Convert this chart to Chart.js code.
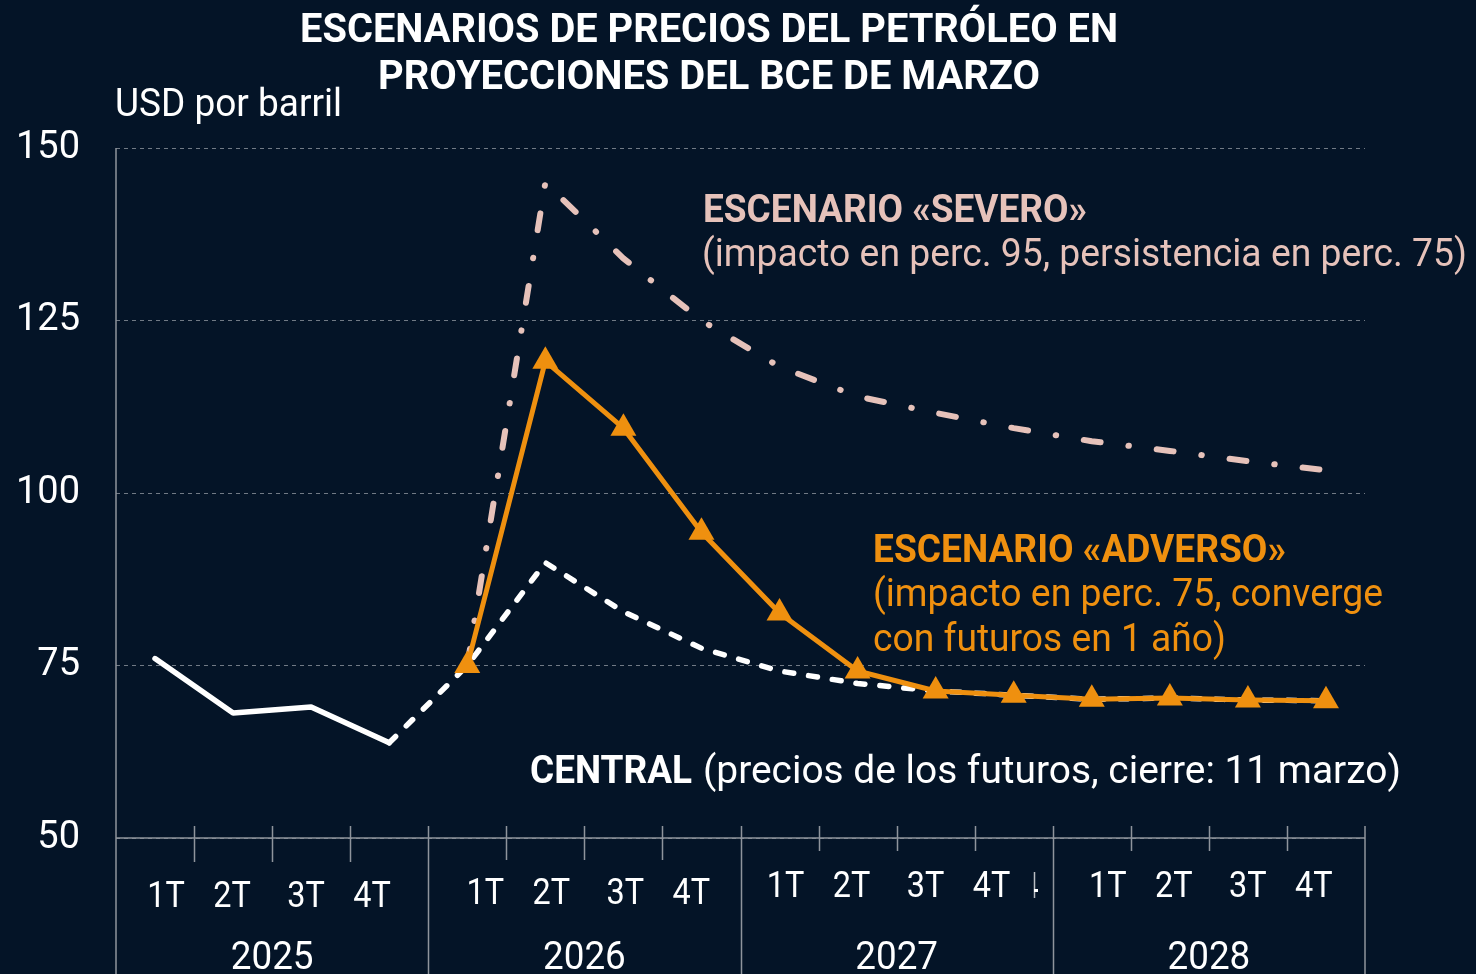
<!DOCTYPE html>
<html>
<head>
<meta charset="utf-8">
<script src="https://cdn.jsdelivr.net/npm/chart.js@4"></script>
<style>
  html, body { margin: 0; padding: 0; background: #041427; }
  #wrap { width: 1476px; height: 974px; position: relative; }
</style>
</head>
<body>
<div id="wrap"><canvas id="myChart"></canvas></div>
<script>
// ==========================================
// Data
// ==========================================

const years = ["2025", "2026", "2027", "2028"];
const quarters = ["1T", "2T", "3T", "4T"];
const categories = [];
years.forEach(y => quarters.forEach(q => categories.push(q + " " + y)));

// USD per barrel
const historico = [76, 68.1, 69, 63.8, null, null, null, null, null, null, null, null, null, null, null, null];
const central   = [null, null, null, 63.8, 75, 89.9, 82.8, 77.5, 74.2, 72.4, 71.3, 70.7, 70.1, 70.3, 70.0, 69.9];
const adverso   = [null, null, null, null, 75, 119.1, 109.4, 94.3, 82.6, 74.2, 71.3, 70.7, 70.1, 70.3, 70.0, 69.9];
const severo    = [null, null, null, null, 75, 145, 134, 125, 118.3, 114, 111.6, 109.4, 107.5, 106.1, 104.6, 103.3];

const yTicks = [50, 75, 100, 125, 150];

// ==========================================
// Colours and helpers
// ==========================================

const ORANGE = "#ef900f";
const PINK = "#e6c2ba";
const WHITE = "#ffffff";
const AXIS = "#8f949c";

// draws a text squeezed to a given width
function fitText(ctx, txt, x, y, w, font, color) {
   ctx.save();
   ctx.font = font;
   ctx.fillStyle = color;
   ctx.textAlign = "left";
   ctx.textBaseline = "alphabetic";
   let s = w / ctx.measureText(txt).width;
   ctx.translate(x, y);
   ctx.scale(s, 1);
   ctx.fillText(txt, 0, 0);
   ctx.restore();
}

function squeezeCenter(ctx, txt, cx, y, sx, font, color) {
   ctx.save();
   ctx.font = font;
   ctx.fillStyle = color;
   ctx.textAlign = "center";
   ctx.textBaseline = "alphabetic";
   ctx.translate(cx, y);
   ctx.scale(sx, 1);
   ctx.fillText(txt, 0, 0);
   ctx.restore();
}

function vline(ctx, x, y1, y2) {
   ctx.beginPath();
   ctx.moveTo(x, y1);
   ctx.lineTo(x, y2);
   ctx.stroke();
}

// ==========================================
// Axes and text plugin
// ==========================================

const decor = {
   id: "decor",
   afterDraw(chart) {
      const ctx = chart.ctx;
      const area = chart.chartArea;
      const xs = chart.scales.x;
      const qw = (area.right - area.left) / categories.length;
      const H = chart.height;

      // axis lines and ticks
      ctx.save();
      ctx.strokeStyle = AXIS;
      ctx.lineWidth = 1.5;
      ctx.beginPath();
      ctx.moveTo(area.left, area.bottom);
      ctx.lineTo(area.right, area.bottom);
      ctx.stroke();
      vline(ctx, area.left, area.top, H);
      vline(ctx, area.right, area.bottom - 12, H);
      const tickEnd = [862, 860, 851, 851];
      for (let k = 1; k < categories.length; k++) {
         let x = Math.round(xs.getPixelForValue(k) - qw / 2) + 0.5;
         if (k % 4 == 0) vline(ctx, x, area.bottom - 12, H);
         else vline(ctx, x, area.bottom - 12, tickEnd[Math.floor(k / 4)]);
      }
      // small stray mark next to 4T 2027
      ctx.strokeStyle = "#b9bdc3";
      vline(ctx, 1034.5, 872, 898);
      ctx.fillStyle = WHITE;
      ctx.fillRect(1034, 889, 4, 3);
      ctx.restore();

      // quarter and year labels
      const startOff = [50, 57, 45, 55];
      const inner = [0, 66, 140, 206];
      const qBase = [907, 904, 897, 897];
      years.forEach((yr, i) => {
         let left = xs.getPixelForValue(i * 4) - qw / 2;
         quarters.forEach((q, j) => {
            squeezeCenter(ctx, q, left + startOff[i] + inner[j], qBase[i], 0.9, "36px Roboto", WHITE);
         });
         squeezeCenter(ctx, yr, left + qw * 2, 969, 0.97, "38px Roboto", WHITE);
      });

      // titles
      fitText(ctx, "ESCENARIOS DE PRECIOS DEL PETRÓLEO EN", 300, 42, 818, "bold 41px Roboto", WHITE);
      fitText(ctx, "PROYECCIONES DEL BCE DE MARZO", 378, 89, 662, "bold 41px Roboto", WHITE);
      fitText(ctx, "USD por barril", 115, 116, 227, "38px Roboto", WHITE);

      // series annotations
      fitText(ctx, "ESCENARIO «SEVERO»", 703, 222, 384, "bold 39px Roboto", PINK);
      fitText(ctx, "(impacto en perc. 95, persistencia en perc. 75)", 702, 266, 765, "39px Roboto", PINK);
      fitText(ctx, "ESCENARIO «ADVERSO»", 873, 562, 413, "bold 39px Roboto", ORANGE);
      fitText(ctx, "(impacto en perc. 75, converge", 873, 606, 510, "39px Roboto", ORANGE);
      fitText(ctx, "con futuros en 1 año)", 873, 651, 353, "39px Roboto", ORANGE);
      fitText(ctx, "CENTRAL", 530, 783, 162, "bold 39px Roboto", WHITE);
      fitText(ctx, "(precios de los futuros, cierre: 11 marzo)", 703, 783, 698, "39px Roboto", WHITE);
   }
};

// ==========================================
// Chart
// ==========================================

const ctx = document.getElementById("myChart");

let chart = new Chart(ctx, {
   type: "line",
   data: {
      labels: categories,
      datasets: [
         {
            label: "Adverso",
            data: adverso,
            borderColor: ORANGE,
            backgroundColor: ORANGE,
            borderWidth: 5,
            pointStyle: "triangle",
            pointRadius: 15,
            pointBorderWidth: 0,
            borderJoinStyle: "round"
         },
         {
            label: "Severo",
            data: severo,
            borderColor: PINK,
            borderWidth: 6,
            borderDash: [17, 28, 0.5, 28],
            borderCapStyle: "round",
            pointRadius: 0
         },
         {
            label: "Central",
            data: central,
            borderColor: WHITE,
            borderWidth: 5.5,
            borderDash: [9, 15],
            borderCapStyle: "round",
            pointRadius: 0
         },
         {
            label: "Histórico",
            data: historico,
            borderColor: WHITE,
            borderWidth: 5.5,
            borderCapStyle: "round",
            borderJoinStyle: "round",
            pointRadius: 0
         }
      ]
   },
   options: {
      responsive: true,
      maintainAspectRatio: false,
      animation: false,
      layout: { padding: { top: 148, right: 111, bottom: 136, left: 0 } },
      plugins: {
         legend: { display: false },
         tooltip: { enabled: false }
      },
      elements: { line: { tension: 0 } },
      scales: {
         x: {
            type: "category",
            offset: true,
            display: false
         },
         y: {
            min: 50,
            max: 150,
            afterBuildTicks: (s) => { s.ticks = yTicks.map(v => ({ value: v })); },
            afterFit: (s) => { s.width = 116; },
            ticks: {
               color: WHITE,
               font: { family: "Roboto", size: 38 },
               padding: 36
            },
            grid: {
               color: "rgba(150,156,166,0.75)",
               lineWidth: 1,
               drawTicks: false
            },
            border: { display: false, dash: [4, 4] }
         }
      }
   },
   plugins: [decor]
});
</script>
</body>
</html>
